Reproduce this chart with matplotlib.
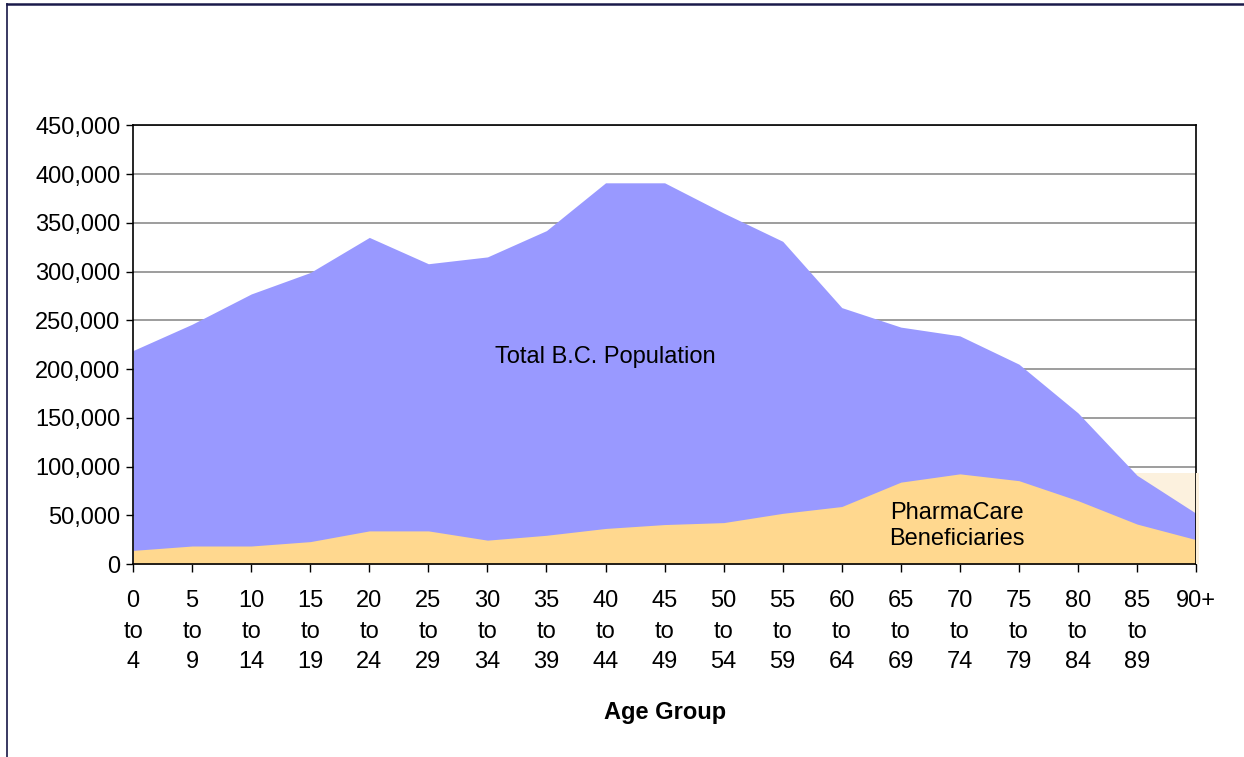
import matplotlib
matplotlib.use("Agg")
import matplotlib.pyplot as plt
import matplotlib.patches as mpatches
from matplotlib.ticker import FuncFormatter, MultipleLocator
import numpy as np

plt.rcParams['font.family'] = ['Liberation Sans', 'DejaVu Sans']

# age groups (tick labels drawn as three lines)
age_groups = ["0\nto\n4", "5\nto\n9", "10\nto\n14", "15\nto\n19", "20\nto\n24",
              "25\nto\n29", "30\nto\n34", "35\nto\n39", "40\nto\n44", "45\nto\n49",
              "50\nto\n54", "55\nto\n59", "60\nto\n64", "65\nto\n69", "70\nto\n74",
              "75\nto\n79", "80\nto\n84", "85\nto\n89", "90+"]

total_pop = [219000, 246000, 277000, 299000, 335000, 308000, 315000, 342000,
             391000, 391000, 360000, 331000, 263000, 243000, 234000, 205000,
             155000, 91000, 52000]

pharmacare = [14000, 18500, 18500, 23000, 34000, 34000, 24500, 29500,
              36500, 40500, 42500, 52000, 59000, 84000, 92500, 85500,
              65000, 41000, 25000]

fig = plt.figure(figsize=(12.44, 7.57), dpi=100)
ax = fig.add_axes([0.107, 0.2549, 0.8545, 0.5796])

x = np.arange(len(age_groups))
ax.fill_between(x, 0, total_pop, color='#9999ff', linewidth=0, zorder=2)
ax.fill_between(x, 0, pharmacare, color='#ffd88f', linewidth=0, zorder=2.1)

# pale beige block left over at the right end of the original chart
ax.add_patch(mpatches.Rectangle((x[-2] - 0.07, 0), 1.12, 93000,
                                facecolor='#fcf1de', edgecolor='none',
                                zorder=1.5, clip_on=False))
ax.add_patch(mpatches.Rectangle((x[-1] - 0.005, 0), 0.055, 93000,
                                facecolor='#fcf1de', edgecolor='none',
                                zorder=3, clip_on=False))

ax.set_xlim(0, len(age_groups) - 1)
ax.set_ylim(0, 450000)
ax.yaxis.set_major_locator(MultipleLocator(50000))
ax.yaxis.set_major_formatter(FuncFormatter(lambda v, p: f"{int(v):,}"))
ax.grid(axis='y', color='#8c8c8c', linewidth=1.2)
ax.set_axisbelow(True)

ax.set_xticks(x)
ax.set_xticklabels(age_groups, linespacing=1.5, va='top')
ax.tick_params(axis='x', length=6, width=1, pad=13, labelsize=17, color='black')
ax.tick_params(axis='y', length=5, width=1, pad=4, labelsize=17, color='black')
for s in ax.spines.values():
    s.set_color('black')
    s.set_linewidth(1.2)

ax.set_xlabel("Age Group", fontsize=17, fontweight='bold', labelpad=20)

ax.text(8.0, 212000, "Total B.C. Population", fontsize=17, ha='center',
        va='center', zorder=5)
ax.text(13.95, 39000, "PharmaCare\nBeneficiaries", fontsize=17, ha='center',
        va='center', linespacing=1.2, zorder=5)

# outer frame of the original chart
fig.add_artist(plt.Line2D([0.0057, 0.0057], [0, 0.9947], color='#2a2a55',
                          linewidth=1.3, transform=fig.transFigure))
fig.add_artist(plt.Line2D([0.0057, 1.0], [0.9947, 0.9947], color='#1a1a4a',
                          linewidth=1.8, transform=fig.transFigure))

fig.savefig("out.png", dpi=100)
